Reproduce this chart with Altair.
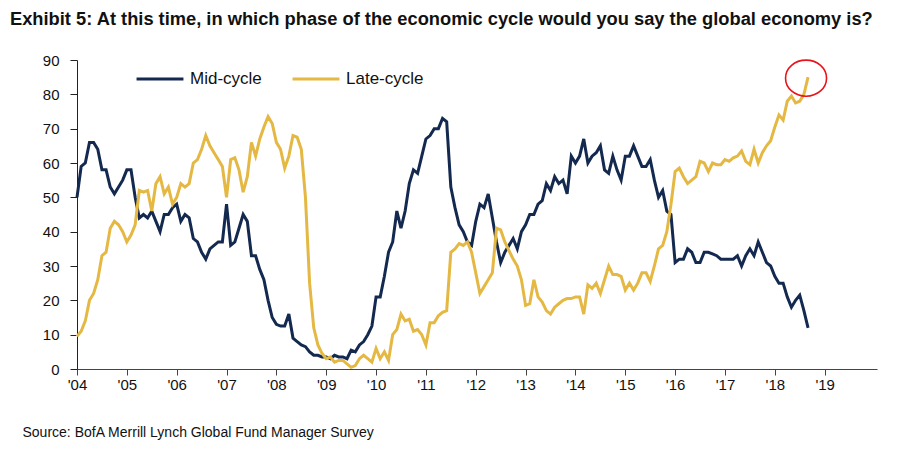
import altair as alt
import pandas as pd

# Monthly survey readings, Jan 2004 .. Sep 2018 (percent of respondents)
mid_cycle = [
    50, 59, 60, 66, 66, 64, 58, 58, 53, 51, 53, 55,          # 2004
    58, 58, 50, 44, 45, 44, 46, 43, 40, 45, 45, 47,          # 2005
    48, 43, 45, 44, 38, 37, 34, 32, 35, 36, 37, 37,          # 2006
    48, 36, 37, 41, 45, 43, 33, 33, 29, 26, 20, 15,          # 2007
    13, 12.5, 12.5, 16, 9, 8, 7, 6.5, 5, 4, 4, 3.5,          # 2008
    3.5, 3, 4, 3.5, 3.5, 3, 5.5, 5, 7, 8, 10, 12.5,          # 2009
    21, 21, 27, 34, 37, 46, 41, 46, 54, 58, 57, 62,          # 2010
    67, 68, 70, 70, 73, 72, 53, 47, 42, 40, 37, 36,          # 2011
    43, 48, 47, 51, 44, 37, 31, 34, 36, 38, 35, 40,          # 2012
    42, 45, 45, 48, 49, 54, 52, 56, 54, 55, 51, 62,          # 2013
    60, 62, 67, 60, 62, 63, 65, 58, 57, 62, 58, 55,          # 2014
    62, 62, 65, 62, 59, 59, 61, 55, 50, 52, 46, 45,          # 2015
    31, 32, 32, 35, 34, 31, 31, 34, 34, 33.5, 33, 32,        # 2016
    32, 32, 32, 33, 30, 33, 35, 33, 37, 34, 31, 30,          # 2017
    27, 25, 25, 21, 18, 20, 21.5, 17, 12,                    # 2018
]
late_cycle = [
    9.5, 11, 14, 20, 22, 26, 33, 34, 41, 43, 42, 40,         # 2004
    37, 39, 42, 52, 51.5, 52, 46, 54, 56, 51, 53, 48,        # 2005
    50, 54, 53, 54, 60, 61, 64, 68, 65, 63, 61, 59,          # 2006
    50, 61, 61.5, 58, 51.5, 56, 66, 62, 67, 70.5, 73.5, 71.5,  # 2007
    66, 64, 58.5, 62, 68, 67.5, 64, 50, 25, 12, 7, 4.5,      # 2008
    3, 3.5, 2, 2.5, 2.5, 1.5, 0.5, 1, 3, 4, 3, 2,            # 2009
    6, 3, 5, 2.5, 10, 11.5, 16, 14, 14.5, 11, 11.5, 10,      # 2010
    7, 13.5, 13.5, 15.5, 16.5, 17, 34, 35, 36.5, 36, 37, 34, # 2011
    28, 22, 24, 26, 28, 41, 40.5, 37, 34.5, 32, 30, 26,      # 2012
    18.5, 19, 26, 21, 19.5, 17, 16, 18, 19, 20, 20.5, 20.5,  # 2013
    21, 21, 16, 24.5, 23.5, 25, 22, 26, 30, 27.5, 27.5, 27,  # 2014
    23, 25, 23, 25, 28, 28, 25.5, 30, 35, 36, 40, 48,        # 2015
    57.5, 58.5, 56, 54, 55, 56, 60.5, 60, 57.5, 60, 59.5, 59.5,  # 2016
    61, 60.5, 61.5, 62, 63.5, 60.5, 59.5, 64, 60, 63, 65, 66.5,  # 2017
    70.5, 74, 72.5, 78, 79.5, 77.5, 78, 80, 85,              # 2018
]
series_names = ["Mid-cycle", "Late-cycle"]
series_colors = ["#13294f", "#e4b843"]
year_ticks = list(range(2004, 2020))
y_ticks = list(range(0, 91, 10))

title_text = "Exhibit 5: At this time, in which phase of the economic cycle would you say the global economy is?"
source_text = "Source: BofA Merrill Lynch Global Fund Manager Survey"

rows = []
for name, vals in zip(series_names, [mid_cycle, late_cycle]):
    for k, v in enumerate(vals):
        rows.append({"t": 2004 + k / 12.0, "value": v, "series": name})
df = pd.DataFrame(rows)
last_late = df[df.series == "Late-cycle"].tail(1)

FONT = "Liberation Sans"

x_enc = alt.X(
    "t:Q",
    scale=alt.Scale(domain=[2004, 2020.05], nice=False, zero=False),
    axis=alt.Axis(
        values=year_ticks,
        format="d",
        labelExpr="\"'\" + substring(datum.label, 2)",
        labelFlush=False,
        labelOverlap=False,
        grid=False,
        tickSize=6,
        tickColor="#444",
        domainColor="#444",
        labelFont=FONT,
        labelFontSize=15,
        labelColor="#111",
        labelPadding=2,
        title=source_text,
        titleFont=FONT,
        titleFontSize=14,
        titleFontWeight="normal",
        titleColor="#111",
        titleAnchor="start",
        titleAlign="left",
        titleBaseline="middle",
        titleX=-55,
        titleY=63,
    ),
)
y_enc = alt.Y(
    "value:Q",
    scale=alt.Scale(domain=[0, 90], nice=False),
    axis=alt.Axis(
        values=y_ticks,
        tickCount=10,
        labelOverlap=False,
        labelFlush=False,
        grid=False,
        tickSize=7,
        tickColor="#222",
        domainColor="#222",
        labelFont=FONT,
        labelFontSize=15,
        labelColor="#111",
        labelPadding=11,
        title=None,
    ),
)
color_enc = alt.Color(
    "series:N",
    scale=alt.Scale(domain=series_names, range=series_colors),
    legend=alt.Legend(
        title=None,
        orient="none",
        legendX=58,
        legendY=-6,
        direction="horizontal",
        symbolType="stroke",
        symbolSize=2200,
        symbolStrokeWidth=3,
        labelFont=FONT,
        labelFontSize=17,
        labelColor="#111",
        labelOffset=5,
        columnPadding=24,
    ),
)

base = alt.Chart(df)
mid_line = base.transform_filter(alt.datum.series == "Mid-cycle").mark_line(strokeWidth=3).encode(
    x=x_enc, y=y_enc, color=color_enc
)
late_line = base.transform_filter(alt.datum.series == "Late-cycle").mark_line(strokeWidth=3).encode(
    x=x_enc, y=y_enc, color=color_enc
)
ellipse = alt.Chart(last_late).mark_point(
    shape="M -1 0 A 1 0.88 0 1 1 1 0 A 1 0.88 0 1 1 -1 0 Z",
    size=1681,
    filled=False,
    stroke="#e8141a",
    strokeWidth=1.6,
    opacity=1,
    xOffset=-2,
    yOffset=1,
).encode(x=x_enc, y=y_enc)

chart = (
    alt.layer(mid_line, late_line, ellipse)
    .properties(
        width=800,
        height=309,
        autosize=alt.AutoSizeParams(type="none"),
        padding={"left": 69, "top": 52, "right": 15, "bottom": 75},
        title=alt.TitleParams(
            text=title_text,
            anchor="start",
            frame="group",
            dx=-67,
            offset=24,
            font=FONT,
            fontSize=18.3,
            fontWeight="bold",
            color="#111",
        ),
    )
    .configure_view(strokeWidth=0)
)

chart.save("out.html", embed_options={"renderer": "svg", "actions": False})
